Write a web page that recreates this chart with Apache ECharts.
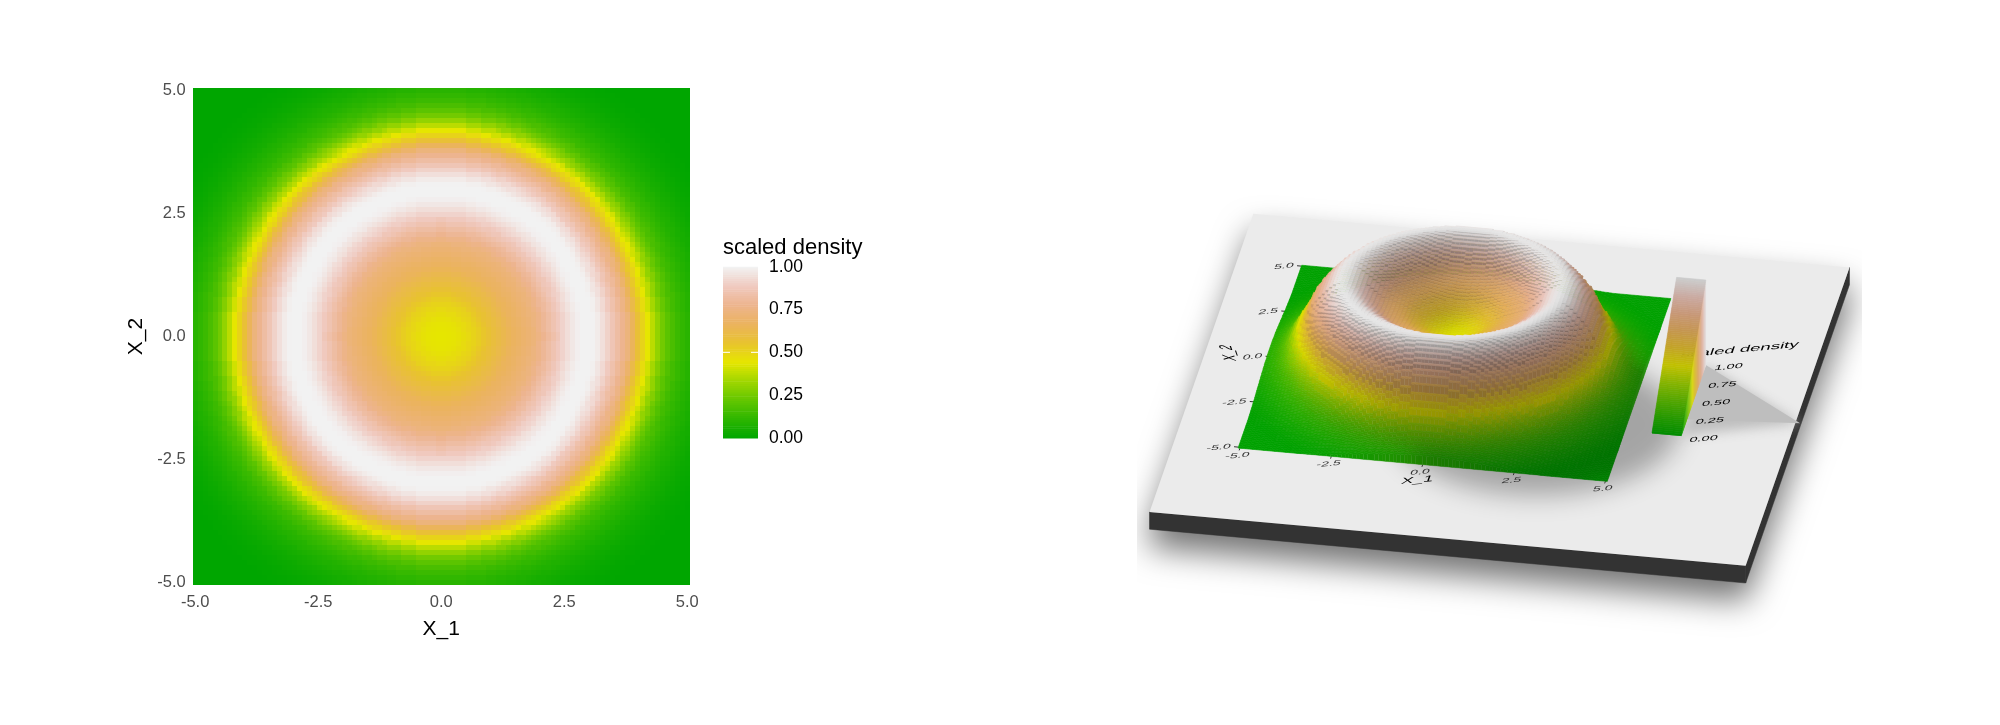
<!DOCTYPE html>
<html>
<head>
<meta charset="utf-8">
<style>
  html, body { margin: 0; background: #fff; }
  #chart { width: 2000px; height: 725px; }
</style>
<script src="https://cdn.jsdelivr.net/npm/echarts@6/dist/echarts.min.js"></script>
</head>
<body>
<div id="chart"></div>
<script>
// tick labels
const x1Ticks = [-5, -2.5, 0, 2.5, 5]
const x2Ticks = [-5, -2.5, 0, 2.5, 5]
const legendTicks = [0, 0.25, 0.5, 0.75, 1]

const radialDensity = [
  0.445, 0.445, 0.445, 0.447, 0.45, 0.452, 0.455, 0.46, 0.465, 0.472,
  0.48, 0.487, 0.495, 0.505, 0.515, 0.525, 0.535, 0.545, 0.555, 0.567,
  0.58, 0.59, 0.6, 0.61, 0.62, 0.63, 0.64, 0.65, 0.66, 0.668,
  0.675, 0.683, 0.69, 0.698, 0.705, 0.713, 0.72, 0.73, 0.74, 0.752,
  0.765, 0.78, 0.795, 0.81, 0.825, 0.84, 0.855, 0.87, 0.885, 0.9,
  0.915, 0.93, 0.945, 0.958, 0.97, 0.98, 0.99, 0.995, 1, 1,
  1, 1, 0.998, 0.992, 0.98, 0.965, 0.948, 0.93, 0.91, 0.887,
  0.865, 0.845, 0.825, 0.802, 0.78, 0.757, 0.735, 0.697, 0.66, 0.617,
  0.575, 0.54, 0.505, 0.475, 0.445, 0.41, 0.375, 0.342, 0.31, 0.28,
  0.25, 0.227, 0.205, 0.187, 0.17, 0.155, 0.14, 0.13, 0.12, 0.11,
  0.1, 0.092, 0.085, 0.077, 0.07, 0.062, 0.055, 0.05, 0.045, 0.04,
  0.035, 0.03, 0.025, 0.021, 0.018, 0.015, 0.012, 0.01, 0.008, 0.006,
  0.004, 0.002, 0, 0, 0, 0, 0, 0, 0, 0,
  0, 0, 0, 0, 0, 0, 0, 0, 0, 0,
  0, 0, 0, 0, 0,
]

// terrain colours, evenly spaced over 0..1
const rampColors = [
  '#00A600', '#2DB600', '#63C600', '#A0D600', '#E6E600',
  '#E8C32E', '#EBB35E', '#EDB48E', '#F0CAC0', '#F2F2F2',
]

const FONT = '"Liberation Sans", Arial, sans-serif'
const CELLS = 100
const HALF = 10 / 99 / 2

function densityAt(x1, x2) {
  const idx = Math.round(Math.hypot(x1, x2) / 0.05)
  return radialDensity[Math.min(idx, radialDensity.length - 1)]
}

const cellCenters = []
for (let i = 0; i < CELLS; i++) cellCenters.push(-5 + (i * 10) / 99)

// every cell looks its value up in radialDensity
const heatCells = []
cellCenters.forEach((x1) => {
  cellCenters.forEach((x2) => heatCells.push([x1, x2, densityAt(x1, x2)]))
})

const legendLevels = []
for (let i = 0; i <= 80; i++) legendLevels.push(i / 80)

// Oblique view of the same plot, 1 unit of X_1 / X_2 / density in scene pixels
const VIEW = { ox: 1454.5, oy: 373.3, x1: [36.55, 3.3], x2: [6.3, -18.1], z: 89 }
const PLATE = { x1: [-6.81, 9.5], x2: [-8.9, 7.58], depth: -0.194 }
const LEGEND_BAR = { x1: [5.79, 6.59], x2: [-2.24, 1.66], height: 0.955 }
const LIGHT = { dx: -3.04, dy: 2.66, zScale: 4 }

function project(x1, x2, z) {
  return [
    VIEW.ox + VIEW.x1[0] * x1 + VIEW.x2[0] * x2,
    VIEW.oy + VIEW.x1[1] * x1 + VIEW.x2[1] * x2 - VIEW.z * z,
  ]
}

function toneColor(value, tone, lift) {
  const c = echarts.color.parse(echarts.color.lerp(value, rampColors))
  const w = lift || 0
  const f = (v) => Math.max(0, Math.min(255, Math.round(v * tone * (1 - w) + 255 * w)))
  return `rgb(${f(c[0])},${f(c[1])},${f(c[2])})`
}

function cellTone(x1, x2, v) {
  const h = 0.2
  const dx = ((densityAt(x1 + h, x2) - densityAt(x1 - h, x2)) / (2 * h)) * LIGHT.zScale
  const dy = ((densityAt(x1, x2 + h) - densityAt(x1, x2 - h)) / (2 * h)) * LIGHT.zScale
  const len = Math.hypot(dx, dy, 1)
  const lightLen = Math.hypot(LIGHT.dx, LIGHT.dy, LIGHT.zScale)
  const lambert = (-dx * LIGHT.dx - dy * LIGHT.dy + LIGHT.zScale) / (len * lightLen)
  let occl = 0
  for (let t = 0.06; t < 1.4; t += 0.02) {
    const above = densityAt(x1 + LIGHT.dx * t, x2 + LIGHT.dy * t) - (v + t)
    occl = Math.max(occl, 0.6 + above / (0.45 * t))
  }
  occl = Math.min(1, occl)
  const diffuse = Math.max(0.66, Math.min(0.97, 0.74 + 0.36 * lambert))
  return Math.min(diffuse, 1 - 0.3 * occl)
}

// soften the shading so the shadow has no hard cell-sized edge
function blurTones(tones, radius) {
  return tones.map((row, j) => row.map((_, i) => {
    let sum = 0
    let n = 0
    for (let b = Math.max(0, j - radius); b <= Math.min(CELLS - 1, j + radius); b++) {
      for (let a = Math.max(0, i - radius); a <= Math.min(CELLS - 1, i + radius); a++) {
        sum += tones[b][a]
        n++
      }
    }
    return sum / n
  }))
}

let tones = cellCenters.map((x2) => cellCenters.map((x1) => cellTone(x1, x2, densityAt(x1, x2))))
tones = blurTones(blurTones(tones, 2), 2)

// back to front so nearer cells paint over farther ones; the outer rows get a skirt down to the plate
const surfaceCells = []
for (let j = CELLS - 1; j >= 0; j--) {
  for (let i = 0; i < CELLS; i++) {
    const x1 = cellCenters[i]
    const x2 = cellCenters[j]
    const v = densityAt(x1, x2)
    surfaceCells.push([
      x1,
      x2,
      v,
      j > 0 ? Math.max(0, v - densityAt(x1, cellCenters[j - 1])) : v,
      i < CELLS - 1 ? Math.max(0, v - densityAt(cellCenters[i + 1], x2)) : v,
      tones[j][i],
    ])
  }
}

const planeLabels = []
x1Ticks.forEach((t) => planeLabels.push({ text: t.toFixed(1), x1: t, x2: -5.47, size: 19, color: '#333' }))
x2Ticks.forEach((t) => planeLabels.push({ text: t.toFixed(1), x1: -5.26, x2: t, size: 19, color: '#333', align: 'right' }))
planeLabels.push({ text: 'X_1', x1: 0, x2: -5.9, size: 24, color: '#000' })
planeLabels.push({ text: 'X_2', x1: -6.18, x2: 0, size: 24, color: '#000', upright: true })
planeLabels.push({ text: 'scaled density', x1: 5.84, x2: 2.07, size: 25, color: '#000', align: 'left' })
legendTicks.forEach((t) => {
  planeLabels.push({
    text: t.toFixed(2),
    x1: 6.85,
    x2: -2.45 + 3.97 * t,
    size: 19.5,
    color: '#000',
    align: 'left',
  })
})

const planeTicks = []
x1Ticks.forEach((t) => planeTicks.push([t, -5.05, t, -5.17]))
x2Ticks.forEach((t) => planeTicks.push([-5.05, t, -5.17, t]))

function polygon(points, fill, extra) {
  return {
    type: 'polygon',
    shape: { points },
    style: Object.assign({ fill }, extra),
  }
}

function renderHeatCell(params, api) {
  const a = api.coord([api.value(0) - HALF, api.value(1) + HALF])
  const b = api.coord([api.value(0) + HALF, api.value(1) - HALF])
  const x = Math.round(a[0])
  const y = Math.round(a[1])
  return {
    type: 'rect',
    shape: { x, y, width: Math.round(b[0]) - x, height: Math.round(b[1]) - y },
    style: { fill: api.visual('color') },
  }
}

function renderLegendRow(params, api) {
  const a = api.coord([0, api.value(1) + 0.5 / 80])
  const b = api.coord([1, api.value(1) - 0.5 / 80])
  const lo = api.coord([0, 0])[1]
  const hi = api.coord([0, 1])[1]
  const top = Math.max(a[1], hi)
  const bottom = Math.min(b[1], lo)
  return {
    type: 'rect',
    shape: { x: a[0], y: top, width: b[0] - a[0], height: bottom - top + 0.5 },
    style: { fill: api.visual('color') },
  }
}

function renderLegendTick(params, api) {
  const v = api.value(0)
  const a = api.coord([0, v])
  const b = api.coord([1, v])
  const style = { stroke: '#fff', lineWidth: 1 }
  return {
    type: 'group',
    children: [
      { type: 'line', shape: { x1: a[0], y1: a[1], x2: a[0] + 7, y2: a[1] }, style },
      { type: 'line', shape: { x1: b[0] - 7, y1: b[1], x2: b[0], y2: b[1] }, style },
    ],
  }
}

function renderPlate(params, api) {
  const p = (x1, x2, z) => api.coord(project(x1, x2, z))
  const [l, r] = PLATE.x1
  const [f, b] = PLATE.x2
  const d = PLATE.depth
  const outline = [p(l, b, 0), p(r, b, 0), p(r, b, d), p(r, f, d), p(l, f, d), p(l, f, 0)]
  const away = 3000
  return {
    type: 'group',
    children: [
      {
        type: 'polygon',
        shape: { points: outline.map((q) => [q[0] - away, q[1]]) },
        style: {
          fill: '#000',
          shadowBlur: 32,
          shadowColor: 'rgba(0,0,0,0.55)',
          shadowOffsetX: away,
          shadowOffsetY: 18,
        },
        clipPath: { type: 'rect', shape: { x: 1137, y: 180, width: 725, height: 470 } },
      },
      polygon([p(l, f, 0), p(r, f, 0), p(r, f, d), p(l, f, d)], '#333333', { stroke: '#333333', lineWidth: 0.5 }),
      polygon([p(r, f, 0), p(r, b, 0), p(r, b, d), p(r, f, d)], '#333333', { stroke: '#333333', lineWidth: 0.5 }),
      polygon([p(l, f, 0), p(r, f, 0), p(r, b, 0), p(l, b, 0)], '#EBEBEB'),
    ],
  }
}

function renderPlateShadows(params, api) {
  const p = (x1, x2, z) => api.coord(project(x1, x2, z))
  const away = 3000
  const circle = []
  for (let a = 0; a < 72; a++) {
    const q = p(2.6 + 3.9 * Math.cos((a * Math.PI) / 36), -2.3 + 3.9 * Math.sin((a * Math.PI) / 36), 0)
    circle.push([q[0] - away, q[1]])
  }
  const [, br] = LEGEND_BAR.x1
  const [bf, bb] = LEGEND_BAR.x2
  const tip = [br - LIGHT.dx, bb - LIGHT.dy]
  const wedge = [p(br, bb, 0), p(tip[0], tip[1], 0), p(br, bf, 0)]
  return {
    type: 'group',
    children: [
      {
        type: 'polygon',
        shape: { points: circle },
        style: { fill: '#000', shadowBlur: 26, shadowColor: 'rgba(0,0,0,0.3)', shadowOffsetX: away },
      },
      {
        type: 'polygon',
        shape: { points: wedge.map((q) => [q[0] - away, q[1]]) },
        style: { fill: '#000', shadowBlur: 12, shadowColor: '#BEBEBE', shadowOffsetX: away },
      },
      polygon([wedge[0], wedge[1], p(br, bf + 0.9, 0)], '#BEBEBE'),
    ],
  }
}

function renderPlaneLabel(params, api) {
  const item = planeLabels[params.dataIndex]
  const pos = api.coord(project(item.x1, item.x2, 0))
  const px = 49.2
  const ax = VIEW.x1[0] / px
  const ay = VIEW.x1[1] / px
  const cx = -VIEW.x2[0] / px
  const cy = -VIEW.x2[1] / px
  const transform = item.upright
    ? { rotation: Math.PI / 2, scaleX: cy, skewY: Math.atan(-cx / cy), scaleY: ax, skewX: Math.atan(-ay / ax) }
    : { scaleX: ax, skewY: Math.atan(ay / ax), scaleY: cy, skewX: Math.atan(cx / cy) }
  return Object.assign(
    {
      type: 'text',
      x: pos[0],
      y: pos[1],
      style: {
        text: item.text,
        fontFamily: FONT,
        fontSize: item.size,
        fill: item.color,
        align: item.align || 'center',
        verticalAlign: 'middle',
      },
    },
    transform
  )
}

function renderPlaneTick(params, api) {
  const a = api.coord(project(api.value(0), api.value(1), 0))
  const b = api.coord(project(api.value(2), api.value(3), 0))
  return {
    type: 'line',
    shape: { x1: a[0], y1: a[1], x2: b[0], y2: b[1] },
    style: { stroke: '#333', lineWidth: 1 },
  }
}

function renderSurfaceCell(params, api) {
  const x1 = api.value(0)
  const x2 = api.value(1)
  const v = api.value(2)
  const front = api.value(3)
  const side = api.value(4)
  const tone = api.value(5)
  const fill = toneColor(v, tone)
  const p = (a, b, z) => api.coord(project(a, b, z))
  const l = x1 - HALF
  const r = x1 + HALF
  const f = x2 - HALF
  const b = x2 + HALF
  const children = [
    polygon([p(l, f, v), p(r, f, v), p(r, b, v), p(l, b, v)], fill, { stroke: fill, lineWidth: 0.6 }),
  ]
  // the risers show as grey specks near the rim and fade out down the slope
  const riser = v > 0.8 ? 0.8 : v > 0.6 ? 0.9 : 0.97
  if (front > 0.0005) {
    const c = toneColor(v, tone * riser)
    children.push(polygon([p(l, f, v), p(r, f, v), p(r, f, v - front), p(l, f, v - front)], c, { stroke: c, lineWidth: 0.3 }))
  }
  if (side > 0.0005) {
    const c = toneColor(v, tone * (riser + 1) / 2)
    children.push(polygon([p(r, f, v), p(r, b, v), p(r, b, v - side), p(r, f, v - side)], c, { stroke: c, lineWidth: 0.3 }))
  }
  return { type: 'group', children }
}

function renderLegendBlock(params, api) {
  const v = api.value(0)
  const step = 1 / 80
  const [l, r] = LEGEND_BAR.x1
  const [f0, b0] = LEGEND_BAR.x2
  const x2At = (t) => f0 + (b0 - f0) * t
  const h = v * LEGEND_BAR.height
  const lower = Math.max(0, v - step) * LEGEND_BAR.height
  const p = (a, b, z) => api.coord(project(a, b, z))
  const f = x2At(Math.max(0, v - step))
  const b = x2At(v)
  const fill = toneColor(v, 0.84)
  const wall = toneColor(v, 0.93, 0.1)
  return {
    type: 'group',
    children: [
      polygon([p(r, f, lower), p(r, b, h), p(r, b, 0), p(r, f, 0)], wall, { stroke: wall, lineWidth: 0.5 }),
      polygon([p(l, f, lower), p(r, f, lower), p(r, b, h), p(l, b, h)], fill, { stroke: fill, lineWidth: 0.6 }),
    ],
  }
}

const sceneAxis = (gridIndex) => ({ gridIndex, type: 'value', show: false })
const chart = echarts.init(document.getElementById('chart'), null, { renderer: 'canvas' })

const axisBase = {
  type: 'value',
  min: -5.05,
  max: 5.05,
  nameLocation: 'middle',
  nameTextStyle: { color: '#000', fontFamily: FONT, fontSize: 21 },
  axisLine: { show: false },
  splitLine: { show: false },
  axisTick: { show: true, length: 5, lineStyle: { color: '#333', width: 1.5 } },
}
const tickLabel = (ticks, extra) => Object.assign({
  customValues: ticks,
  color: '#4D4D4D',
  fontFamily: FONT,
  fontSize: 16.5,
  formatter: (v) => v.toFixed(1),
}, extra)

chart.setOption({
  animation: false,
  backgroundColor: '#fff',
  grid: [
    { left: 192.7, top: 88, width: 497, height: 497 },
    { left: 723, top: 266.7, width: 35, height: 171.3 },
    { left: 0, top: 0, width: 2000, height: 725 },
  ],
  xAxis: [
    Object.assign({}, axisBase, {
      gridIndex: 0,
      name: 'X_1',
      nameGap: 34,
      axisTick: Object.assign({}, axisBase.axisTick, { customValues: x1Ticks }),
      axisLabel: tickLabel(x1Ticks, { margin: 9 }),
    }),
    Object.assign(sceneAxis(1), { min: 0, max: 1 }),
    Object.assign(sceneAxis(2), { min: 0, max: 2000 }),
  ],
  yAxis: [
    Object.assign({}, axisBase, {
      gridIndex: 0,
      name: 'X_2',
      nameGap: 46,
      axisTick: Object.assign({}, axisBase.axisTick, { customValues: x2Ticks }),
      axisLabel: tickLabel(x2Ticks, { margin: 7, padding: [3, 0, 0, 0] }),
    }),
    {
      gridIndex: 1,
      type: 'value',
      min: 0,
      max: 1,
      position: 'right',
      axisLine: { show: false },
      axisTick: { show: false },
      splitLine: { show: false },
      axisLabel: {
        customValues: legendTicks,
        color: '#000',
        fontFamily: FONT,
        fontSize: 17.5,
        margin: 11,
        padding: [3, 0, 0, 0],
        formatter: (v) => v.toFixed(2),
      },
    },
    Object.assign(sceneAxis(2), { min: 0, max: 725, inverse: true }),
  ],
  visualMap: {
    show: false,
    seriesIndex: [0, 1],
    dimension: 2,
    min: 0,
    max: 1,
    inRange: { color: rampColors },
  },
  graphic: [
    {
      type: 'text',
      x: 723,
      y: 247.5,
      style: {
        text: 'scaled density',
        fontFamily: FONT,
        fontSize: 22,
        fill: '#000',
        verticalAlign: 'middle',
      },
    },
  ],
  series: [
    {
      type: 'custom',
      name: 'density',
      xAxisIndex: 0,
      yAxisIndex: 0,
      data: heatCells,
      renderItem: renderHeatCell,
      progressive: 0,
      silent: true,
      encode: { x: 0, y: 1 },
    },
    {
      type: 'custom',
      name: 'legend',
      xAxisIndex: 1,
      yAxisIndex: 1,
      data: legendLevels.map((v) => [0, v, v]),
      renderItem: renderLegendRow,
      silent: true,
      encode: { y: 1 },
    },
    {
      type: 'custom',
      name: 'legend ticks',
      xAxisIndex: 1,
      yAxisIndex: 1,
      z: 3,
      data: [[0.5]],
      renderItem: renderLegendTick,
      silent: true,
    },
    {
      type: 'custom',
      name: 'plate',
      xAxisIndex: 2,
      yAxisIndex: 2,
      z: 4,
      data: [[0]],
      renderItem: renderPlate,
      silent: true,
    },
    {
      type: 'custom',
      name: 'plate shadows',
      xAxisIndex: 2,
      yAxisIndex: 2,
      z: 5,
      data: [[0]],
      renderItem: renderPlateShadows,
      silent: true,
    },
    {
      type: 'custom',
      name: 'plane labels',
      xAxisIndex: 2,
      yAxisIndex: 2,
      z: 6,
      data: planeLabels.map((d, i) => [i]),
      renderItem: renderPlaneLabel,
      silent: true,
    },
    {
      type: 'custom',
      name: 'plane ticks',
      xAxisIndex: 2,
      yAxisIndex: 2,
      z: 6,
      data: planeTicks,
      renderItem: renderPlaneTick,
      silent: true,
    },
    {
      type: 'custom',
      name: 'surface',
      xAxisIndex: 2,
      yAxisIndex: 2,
      z: 7,
      data: surfaceCells,
      renderItem: renderSurfaceCell,
      progressive: 0,
      silent: true,
    },
    {
      type: 'custom',
      name: 'legend block',
      xAxisIndex: 2,
      yAxisIndex: 2,
      z: 8,
      data: legendLevels.slice().reverse().map((v) => [v]),
      renderItem: renderLegendBlock,
      silent: true,
    },
  ],
})
</script>
</body>
</html>
